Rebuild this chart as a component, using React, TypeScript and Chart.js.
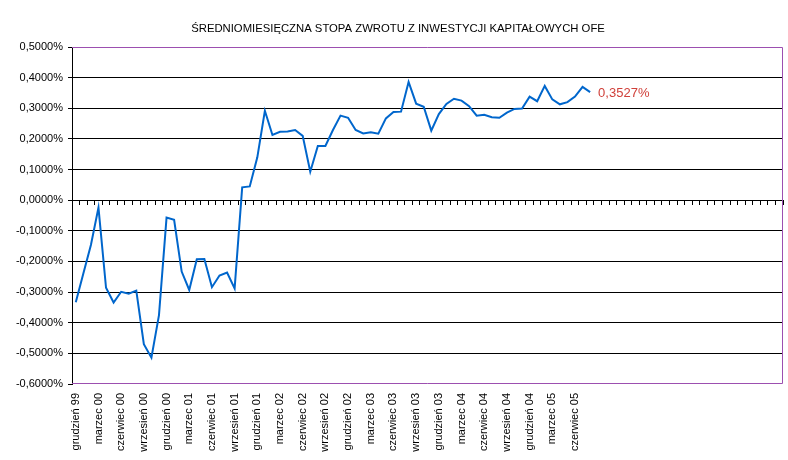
import React, { useEffect, useRef } from 'react';
import { Chart, registerables } from 'chart.js';

Chart.register(...registerables);

const TITLE = 'ŚREDNIOMIESIĘCZNA STOPA ZWROTU Z INWESTYCJI KAPITAŁOWYCH OFE';

const months: string[] = [
  'grudzień 99',
  'styczeń 00', 'luty 00', 'marzec 00', 'kwiecień 00', 'maj 00', 'czerwiec 00',
  'lipiec 00', 'sierpień 00', 'wrzesień 00', 'październik 00', 'listopad 00', 'grudzień 00',
  'styczeń 01', 'luty 01', 'marzec 01', 'kwiecień 01', 'maj 01', 'czerwiec 01',
  'lipiec 01', 'sierpień 01', 'wrzesień 01', 'październik 01', 'listopad 01', 'grudzień 01',
  'styczeń 02', 'luty 02', 'marzec 02', 'kwiecień 02', 'maj 02', 'czerwiec 02',
  'lipiec 02', 'sierpień 02', 'wrzesień 02', 'październik 02', 'listopad 02', 'grudzień 02',
  'styczeń 03', 'luty 03', 'marzec 03', 'kwiecień 03', 'maj 03', 'czerwiec 03',
  'lipiec 03', 'sierpień 03', 'wrzesień 03', 'październik 03', 'listopad 03', 'grudzień 03',
  'styczeń 04', 'luty 04', 'marzec 04', 'kwiecień 04', 'maj 04', 'czerwiec 04',
  'lipiec 04', 'sierpień 04', 'wrzesień 04', 'październik 04', 'listopad 04', 'grudzień 04',
  'styczeń 05', 'luty 05', 'marzec 05', 'kwiecień 05', 'maj 05', 'czerwiec 05',
  'lipiec 05', 'sierpień 05',
];

// empty categories that Excel kept on the axis after the last month
const emptyCategories: string[] = [
  '', '', '', '', '', '', '', '', '', '', '', '', '',
  '', '', '', '', '', '', '', '', '', '', '', '',
];

const returns: number[] = [
  -0.333,
  -0.239, -0.146, -0.024, -0.286, -0.334, -0.299,
  -0.305, -0.295, -0.470, -0.514, -0.375, -0.057,
  -0.064, -0.233, -0.293, -0.193, -0.192, -0.284,
  -0.246, -0.236, -0.288, 0.042, 0.045, 0.140,
  0.292, 0.213, 0.223, 0.224, 0.229, 0.210,
  0.093, 0.177, 0.177, 0.229, 0.276, 0.269,
  0.229, 0.218, 0.222, 0.217, 0.267, 0.288,
  0.289, 0.386, 0.315, 0.305, 0.227, 0.281,
  0.314, 0.331, 0.325, 0.307, 0.276, 0.279,
  0.271, 0.269, 0.286, 0.298, 0.299, 0.338,
  0.323, 0.373, 0.329, 0.313, 0.320, 0.338,
  0.370, 0.3527,
];

const Y_MIN = -0.6;
const Y_MAX = 0.5;
const Y_STEP = 0.1;

const FONT = "'Liberation Sans', Arial, sans-serif";
const BORDER_PURPLE = '#9c4fb0';
const LINE_BLUE = '#0066cc';
const LABEL_RED = '#d0403a';

const fmtPct = (v: number) => {
  const r = Math.round(v * 10000) / 10000;
  return (r === 0 ? 0 : r).toFixed(4).replace('.', ',') + '%';
};

export default function App() {
  const ref = useRef<HTMLCanvasElement | null>(null);

  useEffect(() => {
    document.body.style.margin = '0';
    const canvas = ref.current;
    if (!canvas) return;

    const categories = [...months, ...emptyCategories];

    const decorPlugin = {
      id: 'decor',
      beforeDatasetsDraw(chart: any) {
        const { ctx, chartArea } = chart;
        ctx.save();
        ctx.strokeStyle = BORDER_PURPLE;
        ctx.lineWidth = 1;
        ctx.beginPath();
        ctx.moveTo(chartArea.left, Math.round(chartArea.top) + 0.5);
        ctx.lineTo(Math.round(chartArea.right) - 0.5, Math.round(chartArea.top) + 0.5);
        ctx.lineTo(Math.round(chartArea.right) - 0.5, Math.round(chartArea.bottom) - 0.5);
        ctx.lineTo(chartArea.left, Math.round(chartArea.bottom) - 0.5);
        ctx.stroke();
        ctx.restore();
      },
      afterDraw(chart: any) {
        const { ctx } = chart;
        ctx.save();
        ctx.fillStyle = '#000';
        ctx.font = `11.3px ${FONT}`;
        ctx.textAlign = 'center';
        ctx.textBaseline = 'alphabetic';
        ctx.fillText(TITLE, 398, 32);

        const meta = chart.getDatasetMeta(0);
        const last = meta.data[meta.data.length - 1];
        if (last) {
          ctx.fillStyle = LABEL_RED;
          ctx.font = `13px ${FONT}`;
          ctx.textAlign = 'left';
          ctx.textBaseline = 'middle';
          ctx.fillText(fmtPct(returns[returns.length - 1]), last.x + 8, last.y + 1);
        }
        ctx.restore();
      },
    };

    const chart = new Chart(canvas, {
      type: 'line',
      data: {
        labels: categories,
        datasets: [
          {
            data: returns,
            borderColor: LINE_BLUE,
            borderWidth: 2,
            pointRadius: 0,
            tension: 0,
            fill: false,
            xAxisID: 'x',
            yAxisID: 'y',
          },
        ],
      },
      options: {
        responsive: false,
        animation: false,
        devicePixelRatio: 1,
        layout: { padding: { left: 0, right: 5, top: 47, bottom: 0 } },
        plugins: {
          legend: { display: false },
          title: { display: false },
          tooltip: { enabled: false },
        },
        scales: {
          x: {
            type: 'category',
            position: 'bottom',
            offset: true,
            grid: { display: false, drawTicks: false },
            border: { display: false },
            ticks: {
              autoSkip: false,
              minRotation: 90,
              maxRotation: 90,
              padding: 9,
              color: '#000',
              font: { family: FONT, size: 11 },
              callback: (_v: any, i: number) => (i % 3 === 0 ? categories[i] : ''),
            },
            afterFit: (scale: any) => {
              scale.height = 76;
              scale.paddingLeft = 0;
              scale.paddingRight = 0;
            },
          },
          x2: {
            type: 'category',
            position: { y: 0 },
            offset: true,
            grid: {
              offset: true,
              drawOnChartArea: false,
              drawTicks: true,
              tickLength: 4,
              tickColor: '#000',
              color: '#000',
            },
            border: { display: true, color: '#000', width: 1 },
            ticks: { display: false },
            afterFit: (scale: any) => {
              scale.paddingLeft = 0;
              scale.paddingRight = 0;
            },
          },
          y: {
            type: 'linear',
            position: 'left',
            min: Y_MIN,
            max: Y_MAX,
            grid: {
              color: (ctx: any) => {
                const v = ctx.tick ? Math.round(ctx.tick.value * 10) / 10 : 0;
                return v === Y_MAX || v === Y_MIN ? 'rgba(0,0,0,0)' : '#000';
              },
              tickColor: '#000',
              tickLength: 4,
              lineWidth: 1,
            },
            border: { display: true, color: '#000', width: 1 },
            ticks: {
              stepSize: Y_STEP,
              padding: 5,
              color: '#000',
              font: { family: FONT, size: 11 },
              callback: (v: any) => fmtPct(Number(v)),
            },
            afterFit: (scale: any) => {
              scale.width = 72;
            },
          },
        },
      },
      plugins: [decorPlugin],
    } as any);

    return () => {
      chart.destroy();
    };
  }, []);

  return (
    <div style={{ width: 788, height: 460, background: '#fff' }}>
      <canvas ref={ref} width={788} height={460} style={{ display: 'block' }} />
    </div>
  );
}
